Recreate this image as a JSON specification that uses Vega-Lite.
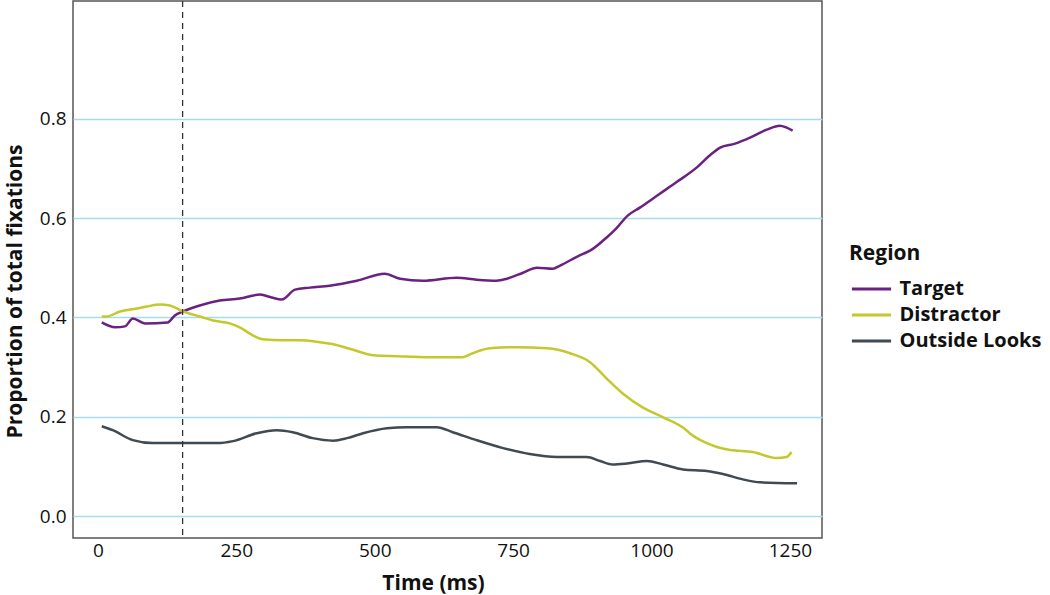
{
  "$schema": "https://vega.github.io/schema/vega-lite/v6.json",
  "width": 749,
  "height": 537,
  "autosize": {"type": "none"},
  "padding": {"left": 73, "top": 1, "right": 228, "bottom": 57},
  "config": {
    "font": "Open Sans",
    "view": {"stroke": "#555555", "strokeWidth": 1.5}
  },
  "datasets": {
    "series": [
      {"t": 7, "p": 0.39, "Region": "Target"},
      {"t": 31, "p": 0.38, "Region": "Target"},
      {"t": 49, "p": 0.382, "Region": "Target"},
      {"t": 63, "p": 0.398, "Region": "Target"},
      {"t": 85, "p": 0.388, "Region": "Target"},
      {"t": 126, "p": 0.39, "Region": "Target"},
      {"t": 139, "p": 0.404, "Region": "Target"},
      {"t": 154, "p": 0.412, "Region": "Target"},
      {"t": 184, "p": 0.424, "Region": "Target"},
      {"t": 220, "p": 0.434, "Region": "Target"},
      {"t": 256, "p": 0.438, "Region": "Target"},
      {"t": 293, "p": 0.446, "Region": "Target"},
      {"t": 314, "p": 0.44, "Region": "Target"},
      {"t": 332, "p": 0.436, "Region": "Target"},
      {"t": 356, "p": 0.456, "Region": "Target"},
      {"t": 383, "p": 0.46, "Region": "Target"},
      {"t": 419, "p": 0.464, "Region": "Target"},
      {"t": 468, "p": 0.474, "Region": "Target"},
      {"t": 518, "p": 0.488, "Region": "Target"},
      {"t": 546, "p": 0.478, "Region": "Target"},
      {"t": 587, "p": 0.474, "Region": "Target"},
      {"t": 648, "p": 0.48, "Region": "Target"},
      {"t": 684, "p": 0.476, "Region": "Target"},
      {"t": 720, "p": 0.474, "Region": "Target"},
      {"t": 739, "p": 0.478, "Region": "Target"},
      {"t": 768, "p": 0.49, "Region": "Target"},
      {"t": 793, "p": 0.5, "Region": "Target"},
      {"t": 822, "p": 0.498, "Region": "Target"},
      {"t": 834, "p": 0.504, "Region": "Target"},
      {"t": 865, "p": 0.522, "Region": "Target"},
      {"t": 894, "p": 0.538, "Region": "Target"},
      {"t": 919, "p": 0.561, "Region": "Target"},
      {"t": 937, "p": 0.58, "Region": "Target"},
      {"t": 957, "p": 0.605, "Region": "Target"},
      {"t": 979, "p": 0.621, "Region": "Target"},
      {"t": 1015, "p": 0.649, "Region": "Target"},
      {"t": 1046, "p": 0.673, "Region": "Target"},
      {"t": 1082, "p": 0.702, "Region": "Target"},
      {"t": 1105, "p": 0.726, "Region": "Target"},
      {"t": 1124, "p": 0.742, "Region": "Target"},
      {"t": 1151, "p": 0.75, "Region": "Target"},
      {"t": 1178, "p": 0.762, "Region": "Target"},
      {"t": 1208, "p": 0.778, "Region": "Target"},
      {"t": 1232, "p": 0.786, "Region": "Target"},
      {"t": 1244, "p": 0.782, "Region": "Target"},
      {"t": 1255, "p": 0.776, "Region": "Target"},

      {"t": 7, "p": 0.402, "Region": "Distractor"},
      {"t": 16, "p": 0.402, "Region": "Distractor"},
      {"t": 40, "p": 0.412, "Region": "Distractor"},
      {"t": 70, "p": 0.418, "Region": "Distractor"},
      {"t": 88, "p": 0.422, "Region": "Distractor"},
      {"t": 112, "p": 0.426, "Region": "Distractor"},
      {"t": 130, "p": 0.424, "Region": "Distractor"},
      {"t": 154, "p": 0.412, "Region": "Distractor"},
      {"t": 184, "p": 0.402, "Region": "Distractor"},
      {"t": 208, "p": 0.394, "Region": "Distractor"},
      {"t": 238, "p": 0.388, "Region": "Distractor"},
      {"t": 256, "p": 0.38, "Region": "Distractor"},
      {"t": 280, "p": 0.364, "Region": "Distractor"},
      {"t": 298, "p": 0.356, "Region": "Distractor"},
      {"t": 334, "p": 0.354, "Region": "Distractor"},
      {"t": 365, "p": 0.354, "Region": "Distractor"},
      {"t": 401, "p": 0.35, "Region": "Distractor"},
      {"t": 425, "p": 0.346, "Region": "Distractor"},
      {"t": 455, "p": 0.337, "Region": "Distractor"},
      {"t": 497, "p": 0.324, "Region": "Distractor"},
      {"t": 540, "p": 0.322, "Region": "Distractor"},
      {"t": 600, "p": 0.32, "Region": "Distractor"},
      {"t": 659, "p": 0.32, "Region": "Distractor"},
      {"t": 677, "p": 0.328, "Region": "Distractor"},
      {"t": 708, "p": 0.338, "Region": "Distractor"},
      {"t": 757, "p": 0.34, "Region": "Distractor"},
      {"t": 811, "p": 0.338, "Region": "Distractor"},
      {"t": 853, "p": 0.328, "Region": "Distractor"},
      {"t": 889, "p": 0.31, "Region": "Distractor"},
      {"t": 919, "p": 0.277, "Region": "Distractor"},
      {"t": 948, "p": 0.247, "Region": "Distractor"},
      {"t": 984, "p": 0.219, "Region": "Distractor"},
      {"t": 1021, "p": 0.199, "Region": "Distractor"},
      {"t": 1063, "p": 0.173, "Region": "Distractor"},
      {"t": 1069, "p": 0.167, "Region": "Distractor"},
      {"t": 1100, "p": 0.147, "Region": "Distractor"},
      {"t": 1142, "p": 0.133, "Region": "Distractor"},
      {"t": 1183, "p": 0.129, "Region": "Distractor"},
      {"t": 1226, "p": 0.117, "Region": "Distractor"},
      {"t": 1244, "p": 0.119, "Region": "Distractor"},
      {"t": 1253, "p": 0.129, "Region": "Distractor"},

      {"t": 7, "p": 0.181, "Region": "Outside Looks"},
      {"t": 27, "p": 0.173, "Region": "Outside Looks"},
      {"t": 63, "p": 0.153, "Region": "Outside Looks"},
      {"t": 99, "p": 0.147, "Region": "Outside Looks"},
      {"t": 154, "p": 0.147, "Region": "Outside Looks"},
      {"t": 215, "p": 0.147, "Region": "Outside Looks"},
      {"t": 244, "p": 0.151, "Region": "Outside Looks"},
      {"t": 287, "p": 0.167, "Region": "Outside Looks"},
      {"t": 323, "p": 0.173, "Region": "Outside Looks"},
      {"t": 352, "p": 0.169, "Region": "Outside Looks"},
      {"t": 388, "p": 0.157, "Region": "Outside Looks"},
      {"t": 425, "p": 0.152, "Region": "Outside Looks"},
      {"t": 450, "p": 0.157, "Region": "Outside Looks"},
      {"t": 479, "p": 0.167, "Region": "Outside Looks"},
      {"t": 522, "p": 0.177, "Region": "Outside Looks"},
      {"t": 558, "p": 0.179, "Region": "Outside Looks"},
      {"t": 612, "p": 0.179, "Region": "Outside Looks"},
      {"t": 641, "p": 0.169, "Region": "Outside Looks"},
      {"t": 684, "p": 0.153, "Region": "Outside Looks"},
      {"t": 732, "p": 0.137, "Region": "Outside Looks"},
      {"t": 780, "p": 0.125, "Region": "Outside Looks"},
      {"t": 829, "p": 0.119, "Region": "Outside Looks"},
      {"t": 883, "p": 0.119, "Region": "Outside Looks"},
      {"t": 907, "p": 0.111, "Region": "Outside Looks"},
      {"t": 930, "p": 0.104, "Region": "Outside Looks"},
      {"t": 956, "p": 0.106, "Region": "Outside Looks"},
      {"t": 992, "p": 0.111, "Region": "Outside Looks"},
      {"t": 1021, "p": 0.104, "Region": "Outside Looks"},
      {"t": 1057, "p": 0.094, "Region": "Outside Looks"},
      {"t": 1100, "p": 0.091, "Region": "Outside Looks"},
      {"t": 1129, "p": 0.085, "Region": "Outside Looks"},
      {"t": 1165, "p": 0.074, "Region": "Outside Looks"},
      {"t": 1196, "p": 0.068, "Region": "Outside Looks"},
      {"t": 1263, "p": 0.066, "Region": "Outside Looks"}
    ],
    "marker": [{"t": 153}]
  },
  "layer": [
    {
      "data": {"name": "series"},
      "mark": {"type": "line", "interpolate": "monotone", "strokeWidth": 2.5},
      "encoding": {
        "x": {
          "field": "t", "type": "quantitative",
          "scale": {"domain": [-45, 1308], "nice": false, "zero": false},
          "axis": {
            "title": "Time (ms)", "values": [0, 250, 500, 750, 1000, 1250], "format": "d",
            "grid": false, "ticks": false, "domain": false,
            "labelFontSize": 19, "labelColor": "#111111", "labelPadding": 3,
            "titleFontSize": 21, "titleFontWeight": "bold", "titleColor": "#111111", "titlePadding": 12,
            "titleX": 360
          }
        },
        "y": {
          "field": "p", "type": "quantitative",
          "scale": {"domain": [-0.044, 1.037], "nice": false, "zero": false},
          "axis": {
            "title": "Proportion of total fixations", "values": [0, 0.2, 0.4, 0.6, 0.8], "format": ".1f",
            "grid": true, "gridColor": "#a6dce9", "gridWidth": 1.5, "gridOpacity": 1,
            "ticks": false, "domain": false,
            "labelFontSize": 19, "labelColor": "#111111", "labelPadding": 7,
            "titleFontSize": 21, "titleFontWeight": "bold", "titleColor": "#111111", "titlePadding": 14,
            "titleY": 290
          }
        },
        "color": {
          "field": "Region", "type": "nominal",
          "scale": {"domain": ["Target", "Distractor", "Outside Looks"], "range": ["#6b2180", "#c3c82c", "#3f4a52"]},
          "legend": {
            "orient": "none", "legendX": 776, "legendY": 242,
            "title": "Region", "titleFontSize": 21, "titleFontWeight": "bold", "titleColor": "#111111", "titlePadding": 11,
            "labelFontSize": 20, "labelFontWeight": "bold", "labelColor": "#111111", "labelOffset": 14,
            "symbolType": "M-1.6,0H1.6", "symbolSize": 600, "symbolStrokeWidth": 3, "symbolOffset": 8.5, "rowPadding": 2
          }
        }
      }
    },
    {
      "data": {"name": "marker"},
      "mark": {"type": "rule", "strokeDash": [6, 5], "color": "#333333", "strokeWidth": 1.3},
      "encoding": {"x": {"field": "t", "type": "quantitative"}}
    }
  ]
}
